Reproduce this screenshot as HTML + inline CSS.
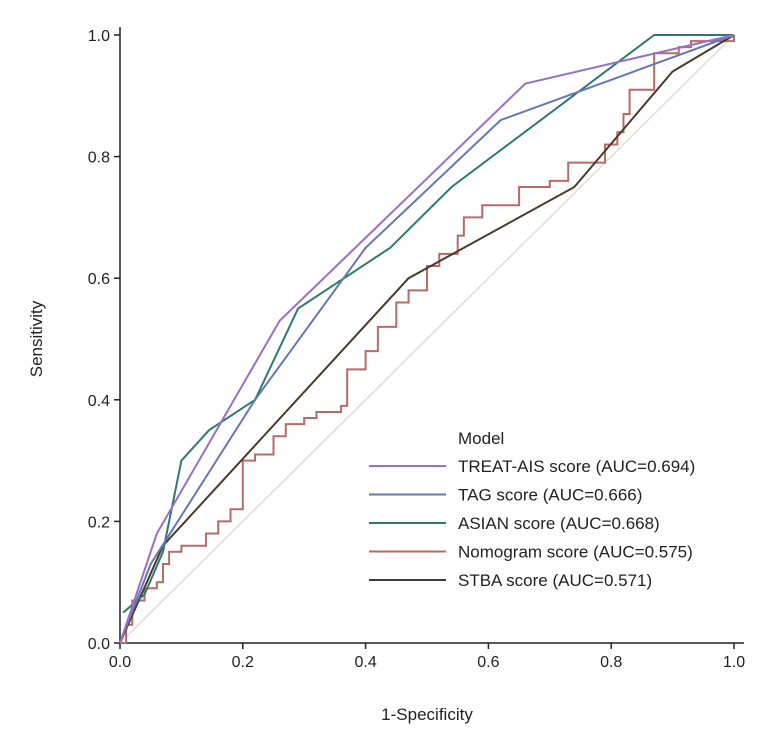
<!DOCTYPE html>
<html><head><meta charset="utf-8"><style>
body{margin:0;background:#fff;font-family:"Liberation Sans",sans-serif}
text{font-family:"Liberation Sans",sans-serif;fill:#222}
</style></head><body>
<svg id="chart" width="763" height="729" xmlns="http://www.w3.org/2000/svg">
<g id="axes"></g><g id="lines"></g><g id="legend"></g>
</svg>
<script>
const ticks=[0,0.2,0.4,0.6,0.8,1.0];
const tickLabels=["0.0","0.2","0.4","0.6","0.8","1.0"];
const treatX=[0,0.06,0.26,0.66,1],treatY=[0,0.18,0.53,0.92,1];
const tagX=[0,0.05,0.22,0.40,0.62,1],tagY=[0,0.13,0.40,0.65,0.86,1];
const asianX=[0.005,0.04,0.07,0.10,0.145,0.22,0.29,0.44,0.54,0.87,1],asianY=[0.05,0.08,0.15,0.30,0.35,0.40,0.55,0.65,0.75,1.0,1];
const stbaX=[0,0.07,0.47,0.74,0.90,1],stbaY=[0,0.16,0.60,0.75,0.94,1];
const nomoX=[0,0.01,0.02,0.04,0.06,0.07,0.08,0.1,0.14,0.16,0.18,0.2,0.22,0.25,0.27,0.3,0.32,0.36,0.37,0.4,0.42,0.45,0.47,0.5,0.52,0.55,0.56,0.59,0.63,0.65,0.7,0.73,0.78,0.79,0.81,0.82,0.83,0.86,0.87,0.91,0.93,1];
const nomoY=[0,0.03,0.07,0.09,0.10,0.13,0.15,0.16,0.18,0.20,0.22,0.30,0.31,0.34,0.36,0.37,0.38,0.39,0.45,0.48,0.52,0.56,0.58,0.62,0.64,0.67,0.70,0.72,0.72,0.75,0.76,0.79,0.79,0.82,0.84,0.87,0.91,0.91,0.97,0.98,0.99,1];
const seriesNames=["TREAT-AIS score (AUC=0.694)","TAG score (AUC=0.666)","ASIAN score (AUC=0.668)","Nomogram score (AUC=0.575)","STBA score (AUC=0.571)"];
const NS="http://www.w3.org/2000/svg";
const sx=v=>120+614*v, sy=v=>643-608*v;
function mk(p,t,a){const e=document.createElementNS(NS,t);for(const k in a)e.setAttribute(k,a[k]);p.appendChild(e);return e;}
const ax=document.getElementById('axes'),ln=document.getElementById('lines'),lg=document.getElementById('legend');
let d=mk(ax,'line',{x1:sx(0),y1:sy(0),x2:sx(1),y2:sy(1),stroke:'#ddd','stroke-width':1.5});

let a=mk(ax,'path',{d:`M${sx(0)} ${sy(1)-8}V${sy(0)}H${sx(1)+10}`,fill:'none',stroke:'#222','stroke-width':1.5});

ticks.forEach((t,i)=>{
 mk(ax,'line',{x1:sx(t),y1:sy(0),x2:sx(t),y2:sy(0)+6,stroke:'#222','stroke-width':1.5});
 let tx=mk(ax,'text',{x:sx(t),y:sy(0)+24,'text-anchor':'middle','font-size':16});tx.textContent=tickLabels[i];
 
 mk(ax,'line',{x1:sx(0)-6,y1:sy(t),x2:sx(0),y2:sy(t),stroke:'#222','stroke-width':1.5});
 let ty=mk(ax,'text',{x:sx(0)-10,y:sy(t)+6,'text-anchor':'end','font-size':16});ty.textContent=tickLabels[i];
 
});
let xt=mk(ax,'text',{x:427,y:720,'text-anchor':'middle','font-size':17});xt.textContent='1-Specificity';

let yt=mk(ax,'text',{x:42,y:339,'text-anchor':'middle','font-size':17,transform:'rotate(-90 42 339)'});yt.textContent='Sensitivity';

function poly(X,Y,step){let s=`M${sx(X[0])} ${sy(Y[0])}`;for(let i=1;i<X.length;i++){if(step)s+=`H${sx(X[i])}`;s+=`L${sx(X[i])} ${sy(Y[i])}`;}return s;}
const cols=['#9b6fc9','#6577b8','#2e7a72','#b86a66','#4a3a2a'];
const data=[[treatX,treatY,0],[tagX,tagY,0],[asianX,asianY,0],[nomoX,nomoY,1],[stbaX,stbaY,0]];
const names=['treat-ais-line','tag-line','asian-line','nomogram-line','stba-line'];
[3,4,2,1,0].forEach(i=>{
 let p=mk(ln,'path',{d:poly(data[i][0],data[i][1],data[i][2]),fill:'none',stroke:cols[i],'stroke-width':2});
 
});
let mt=mk(lg,'text',{x:458,y:444,'font-size':17});mt.textContent='Model';

seriesNames.forEach((n,i)=>{
 const y=466+28.5*i;
 let g=mk(lg,'g',{});
 mk(g,'line',{x1:369,y1:y,x2:446,y2:y,stroke:cols[i],'stroke-width':2});
 let t=mk(g,'text',{x:458,y:y+6,'font-size':17});t.textContent=n;
});
</script>
</body></html>
